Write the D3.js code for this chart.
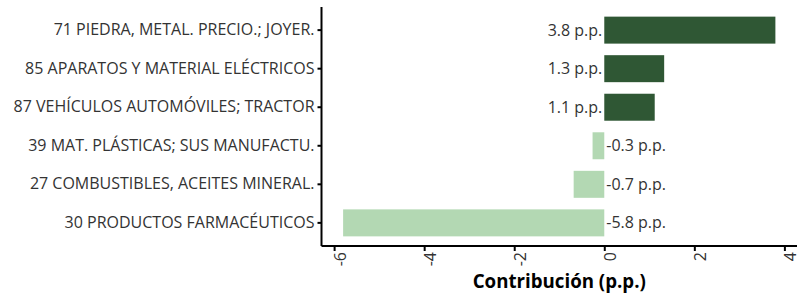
<!DOCTYPE html>
<html><head><meta charset="utf-8">
<script src="https://cdn.jsdelivr.net/npm/d3@7"></script>
<style>body{margin:0;background:#fff}svg{display:block}text{font-family:"Open Sans","Noto Sans",sans-serif}</style>
</head><body>
<svg id="chart" width="803" height="295"></svg>
<script>
const categories = ["71 PIEDRA, METAL. PRECIO.; JOYER.","85 APARATOS Y MATERIAL ELÉCTRICOS","87 VEHÍCULOS AUTOMÓVILES; TRACTOR","39 MAT. PLÁSTICAS; SUS MANUFACTU.","27 COMBUSTIBLES, ACEITES MINERAL.","30 PRODUCTOS FARMACÉUTICOS"];
const values = [3.8, 1.33, 1.12, -0.26, -0.68, -5.8];
const xTicks = [-6, -4, -2, 0, 2, 4];
const xTitle = "Contribución (p.p.)";
const posColor = "#2f5734", negColor = "#b3d8b3";

const svg = d3.select("#chart");
const pL = 321.5, pR = 797, pT = 7, pB = 246;
const x = d3.scaleLinear().domain([-6.28, 4.28]).range([pL, pR]);
const y = d3.scaleBand().domain(categories).range([pT, pB]).paddingInner(0.3).paddingOuter(0.25);
const data = categories.map((c, i) => ({c, v: values[i]}));

svg.append("g").selectAll("rect").data(data).join("rect")
  .attr("x", d => x(Math.min(0, d.v))).attr("width", d => Math.abs(x(d.v) - x(0)))
  .attr("y", d => y(d.c)).attr("height", y.bandwidth())
  .attr("fill", d => d.v >= 0 ? posColor : negColor);

svg.append("g").selectAll("text").data(data).join("text")
  .attr("x", d => d.v >= 0 ? x(0) - 2 : x(0) + 2)
  .attr("y", d => y(d.c) + y.bandwidth() / 2).attr("dy", "0.35em")
  .attr("text-anchor", d => d.v >= 0 ? "end" : "start")
  .attr("font-size", 16).attr("fill", "#333")
  .text(d => d.v.toFixed(1) + " p.p.");

// y axis
const ya = svg.append("g").attr("transform", `translate(${pL},0)`)
  .call(d3.axisLeft(y).tickSize(4).tickPadding(3));
ya.select(".domain").attr("d", `M0,${pT}V${pB}`).attr("stroke", "#000").attr("stroke-width", 2);
ya.selectAll(".tick line").attr("stroke", "#000").attr("stroke-width", 2);
ya.selectAll(".tick text").attr("font-size", 16).attr("fill", "#333").attr("font-family", '"Open Sans","Noto Sans",sans-serif');

// x axis
const xa = svg.append("g").attr("transform", `translate(0,${pB})`)
  .call(d3.axisBottom(x).tickValues(xTicks).tickSize(5).tickFormat(d3.format("d")));
xa.select(".domain").attr("d", `M${pL},0H${pR}`).attr("stroke", "#000").attr("stroke-width", 2);
xa.selectAll(".tick line").attr("stroke", "#000").attr("stroke-width", 2);
xa.selectAll(".tick text").attr("font-size", 16).attr("fill", "#333").attr("font-family", '"Open Sans","Noto Sans",sans-serif')
  .attr("transform", "translate(0,6) rotate(-90)").attr("text-anchor", "end")
  .attr("x", 0).attr("y", 0).attr("dy", "0.72em").text(d => d < 0 ? "-" + Math.abs(d) : d);

svg.append("text").attr("x", (pL + pR) / 2).attr("y", 288).attr("text-anchor", "middle")
  .attr("font-size", 18.7).attr("font-weight", "bold").attr("fill", "#000").text(xTitle);
</script>
</body></html>
